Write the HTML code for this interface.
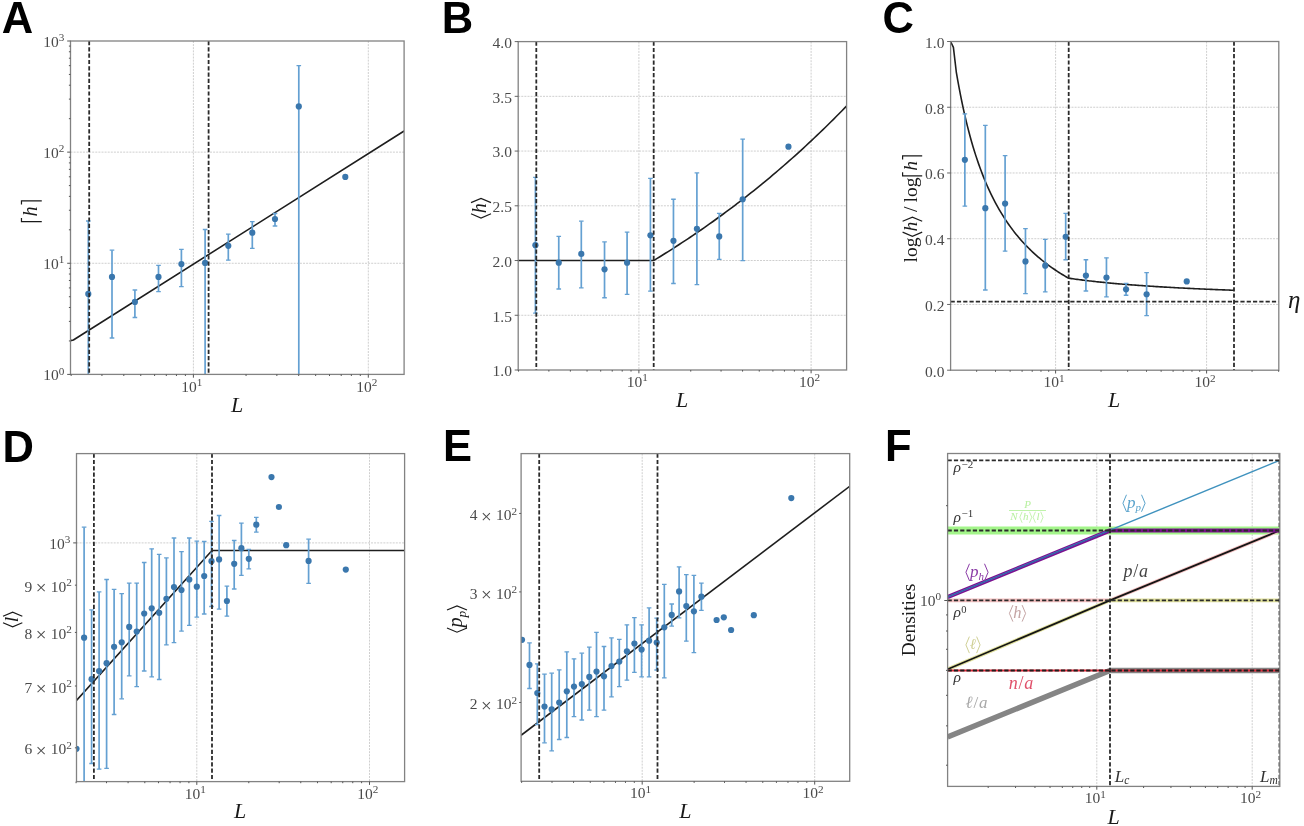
<!DOCTYPE html><html><head><meta charset="utf-8"><style>html,body{margin:0;padding:0;background:#fff;overflow:hidden;}svg{display:block;font-family:"Liberation Serif",serif;will-change:transform;}</style></head><body>
<svg width="1304" height="826" viewBox="0 0 1304 826">
<rect width="1304" height="826" fill="#fff"/>
<text x="1.8" y="32.7" font-family="'Liberation Sans', sans-serif" font-weight="bold" font-size="43.5" fill="#000">A</text>
<text x="441.8" y="32.8" font-family="'Liberation Sans', sans-serif" font-weight="bold" font-size="43.5" fill="#000">B</text>
<text x="882.4" y="33" font-family="'Liberation Sans', sans-serif" font-weight="bold" font-size="43.5" fill="#000">C</text>
<text x="2.6" y="461.6" font-family="'Liberation Sans', sans-serif" font-weight="bold" font-size="43.5" fill="#000">D</text>
<text x="442.9" y="461.4" font-family="'Liberation Sans', sans-serif" font-weight="bold" font-size="43.5" fill="#000">E</text>
<text x="884.9" y="461.4" font-family="'Liberation Sans', sans-serif" font-weight="bold" font-size="43.5" fill="#000">F</text>
<g>
<line x1="193.4" y1="41" x2="193.4" y2="374.4" stroke="#cfcfcf" stroke-width="1" stroke-dasharray="2 1.1"/>
<line x1="70.5" y1="263.27" x2="404.1" y2="263.27" stroke="#cfcfcf" stroke-width="1" stroke-dasharray="2 1.1"/>
<line x1="368.3" y1="41" x2="368.3" y2="374.4" stroke="#cfcfcf" stroke-width="1" stroke-dasharray="2 1.1"/>
<line x1="70.5" y1="152.13" x2="404.1" y2="152.13" stroke="#cfcfcf" stroke-width="1" stroke-dasharray="2 1.1"/>
<clipPath id="cA"><rect x="70.5" y="41.0" width="333.6" height="333.4"/></clipPath>
<g clip-path="url(#cA)">
<path d="M70.5 340.6 L73.4 340 L404.1 131" fill="none" stroke="#1e1e1e" stroke-width="1.6" stroke-linejoin="round"/>
<line x1="88.3" y1="221" x2="88.3" y2="380" stroke="#64a0d2" stroke-width="1.7"/>
<line x1="86" y1="221" x2="90.6" y2="221" stroke="#64a0d2" stroke-width="1.3"/>
<line x1="86" y1="380" x2="90.6" y2="380" stroke="#64a0d2" stroke-width="1.3"/>
<line x1="112" y1="250.2" x2="112" y2="338" stroke="#64a0d2" stroke-width="1.7"/>
<line x1="109.7" y1="250.2" x2="114.3" y2="250.2" stroke="#64a0d2" stroke-width="1.3"/>
<line x1="109.7" y1="338" x2="114.3" y2="338" stroke="#64a0d2" stroke-width="1.3"/>
<line x1="134.9" y1="290" x2="134.9" y2="317.5" stroke="#64a0d2" stroke-width="1.7"/>
<line x1="132.6" y1="290" x2="137.2" y2="290" stroke="#64a0d2" stroke-width="1.3"/>
<line x1="132.6" y1="317.5" x2="137.2" y2="317.5" stroke="#64a0d2" stroke-width="1.3"/>
<line x1="158.5" y1="265.4" x2="158.5" y2="291.7" stroke="#64a0d2" stroke-width="1.7"/>
<line x1="156.2" y1="265.4" x2="160.8" y2="265.4" stroke="#64a0d2" stroke-width="1.3"/>
<line x1="156.2" y1="291.7" x2="160.8" y2="291.7" stroke="#64a0d2" stroke-width="1.3"/>
<line x1="181.4" y1="249.3" x2="181.4" y2="286.6" stroke="#64a0d2" stroke-width="1.7"/>
<line x1="179.1" y1="249.3" x2="183.7" y2="249.3" stroke="#64a0d2" stroke-width="1.3"/>
<line x1="179.1" y1="286.6" x2="183.7" y2="286.6" stroke="#64a0d2" stroke-width="1.3"/>
<line x1="205.1" y1="229.5" x2="205.1" y2="380" stroke="#64a0d2" stroke-width="1.7"/>
<line x1="202.8" y1="229.5" x2="207.4" y2="229.5" stroke="#64a0d2" stroke-width="1.3"/>
<line x1="202.8" y1="380" x2="207.4" y2="380" stroke="#64a0d2" stroke-width="1.3"/>
<line x1="228.3" y1="234.1" x2="228.3" y2="260.2" stroke="#64a0d2" stroke-width="1.7"/>
<line x1="226" y1="234.1" x2="230.6" y2="234.1" stroke="#64a0d2" stroke-width="1.3"/>
<line x1="226" y1="260.2" x2="230.6" y2="260.2" stroke="#64a0d2" stroke-width="1.3"/>
<line x1="252.3" y1="221.6" x2="252.3" y2="248.4" stroke="#64a0d2" stroke-width="1.7"/>
<line x1="250" y1="221.6" x2="254.6" y2="221.6" stroke="#64a0d2" stroke-width="1.3"/>
<line x1="250" y1="248.4" x2="254.6" y2="248.4" stroke="#64a0d2" stroke-width="1.3"/>
<line x1="275" y1="213.5" x2="275" y2="226" stroke="#64a0d2" stroke-width="1.7"/>
<line x1="272.7" y1="213.5" x2="277.3" y2="213.5" stroke="#64a0d2" stroke-width="1.3"/>
<line x1="272.7" y1="226" x2="277.3" y2="226" stroke="#64a0d2" stroke-width="1.3"/>
<line x1="298.8" y1="65.6" x2="298.8" y2="380" stroke="#64a0d2" stroke-width="1.7"/>
<line x1="296.5" y1="65.6" x2="301.1" y2="65.6" stroke="#64a0d2" stroke-width="1.3"/>
<line x1="296.5" y1="380" x2="301.1" y2="380" stroke="#64a0d2" stroke-width="1.3"/>
<circle cx="88.3" cy="293.9" r="3.1" fill="#3a77ad"/>
<circle cx="112" cy="276.9" r="3.1" fill="#3a77ad"/>
<circle cx="134.9" cy="301.9" r="3.1" fill="#3a77ad"/>
<circle cx="158.5" cy="276.9" r="3.1" fill="#3a77ad"/>
<circle cx="181.4" cy="264.1" r="3.1" fill="#3a77ad"/>
<circle cx="205.1" cy="262.9" r="3.1" fill="#3a77ad"/>
<circle cx="228.3" cy="245.8" r="3.1" fill="#3a77ad"/>
<circle cx="252.3" cy="232.7" r="3.1" fill="#3a77ad"/>
<circle cx="275" cy="219" r="3.1" fill="#3a77ad"/>
<circle cx="298.8" cy="106.4" r="3.1" fill="#3a77ad"/>
<circle cx="345.3" cy="176.9" r="3.1" fill="#3a77ad"/>
<line x1="89.2" y1="41" x2="89.2" y2="374.4" stroke="#2a2a2a" stroke-width="1.8" stroke-dasharray="4.2 2.1"/>
<line x1="208.6" y1="41" x2="208.6" y2="374.4" stroke="#2a2a2a" stroke-width="1.8" stroke-dasharray="4.2 2.1"/>
</g>
<rect x="70.5" y="41" width="333.6" height="333.4" fill="none" stroke="#828282" stroke-width="1.3"/>
<line x1="71.15" y1="374.4" x2="71.15" y2="376" stroke="#555" stroke-width="1.0"/>
<line x1="101.95" y1="374.4" x2="101.95" y2="376" stroke="#555" stroke-width="1.0"/>
<line x1="123.8" y1="374.4" x2="123.8" y2="376" stroke="#555" stroke-width="1.0"/>
<line x1="140.75" y1="374.4" x2="140.75" y2="376" stroke="#555" stroke-width="1.0"/>
<line x1="154.6" y1="374.4" x2="154.6" y2="376" stroke="#555" stroke-width="1.0"/>
<line x1="166.31" y1="374.4" x2="166.31" y2="376" stroke="#555" stroke-width="1.0"/>
<line x1="176.45" y1="374.4" x2="176.45" y2="376" stroke="#555" stroke-width="1.0"/>
<line x1="185.4" y1="374.4" x2="185.4" y2="376" stroke="#555" stroke-width="1.0"/>
<line x1="193.4" y1="374.4" x2="193.4" y2="377.7" stroke="#555" stroke-width="1.0"/>
<line x1="246.05" y1="374.4" x2="246.05" y2="376" stroke="#555" stroke-width="1.0"/>
<line x1="276.85" y1="374.4" x2="276.85" y2="376" stroke="#555" stroke-width="1.0"/>
<line x1="298.7" y1="374.4" x2="298.7" y2="376" stroke="#555" stroke-width="1.0"/>
<line x1="315.65" y1="374.4" x2="315.65" y2="376" stroke="#555" stroke-width="1.0"/>
<line x1="329.5" y1="374.4" x2="329.5" y2="376" stroke="#555" stroke-width="1.0"/>
<line x1="341.21" y1="374.4" x2="341.21" y2="376" stroke="#555" stroke-width="1.0"/>
<line x1="351.35" y1="374.4" x2="351.35" y2="376" stroke="#555" stroke-width="1.0"/>
<line x1="360.3" y1="374.4" x2="360.3" y2="376" stroke="#555" stroke-width="1.0"/>
<line x1="368.3" y1="374.4" x2="368.3" y2="377.7" stroke="#555" stroke-width="1.0"/>
<line x1="70.5" y1="374.4" x2="67.2" y2="374.4" stroke="#555" stroke-width="1.0"/>
<line x1="70.5" y1="340.95" x2="68.9" y2="340.95" stroke="#555" stroke-width="1.0"/>
<line x1="70.5" y1="321.38" x2="68.9" y2="321.38" stroke="#555" stroke-width="1.0"/>
<line x1="70.5" y1="307.49" x2="68.9" y2="307.49" stroke="#555" stroke-width="1.0"/>
<line x1="70.5" y1="296.72" x2="68.9" y2="296.72" stroke="#555" stroke-width="1.0"/>
<line x1="70.5" y1="287.92" x2="68.9" y2="287.92" stroke="#555" stroke-width="1.0"/>
<line x1="70.5" y1="280.48" x2="68.9" y2="280.48" stroke="#555" stroke-width="1.0"/>
<line x1="70.5" y1="274.04" x2="68.9" y2="274.04" stroke="#555" stroke-width="1.0"/>
<line x1="70.5" y1="268.35" x2="68.9" y2="268.35" stroke="#555" stroke-width="1.0"/>
<line x1="70.5" y1="263.27" x2="67.2" y2="263.27" stroke="#555" stroke-width="1.0"/>
<line x1="70.5" y1="229.81" x2="68.9" y2="229.81" stroke="#555" stroke-width="1.0"/>
<line x1="70.5" y1="210.24" x2="68.9" y2="210.24" stroke="#555" stroke-width="1.0"/>
<line x1="70.5" y1="196.36" x2="68.9" y2="196.36" stroke="#555" stroke-width="1.0"/>
<line x1="70.5" y1="185.59" x2="68.9" y2="185.59" stroke="#555" stroke-width="1.0"/>
<line x1="70.5" y1="176.79" x2="68.9" y2="176.79" stroke="#555" stroke-width="1.0"/>
<line x1="70.5" y1="169.35" x2="68.9" y2="169.35" stroke="#555" stroke-width="1.0"/>
<line x1="70.5" y1="162.9" x2="68.9" y2="162.9" stroke="#555" stroke-width="1.0"/>
<line x1="70.5" y1="157.22" x2="68.9" y2="157.22" stroke="#555" stroke-width="1.0"/>
<line x1="70.5" y1="152.13" x2="67.2" y2="152.13" stroke="#555" stroke-width="1.0"/>
<line x1="70.5" y1="118.68" x2="68.9" y2="118.68" stroke="#555" stroke-width="1.0"/>
<line x1="70.5" y1="99.11" x2="68.9" y2="99.11" stroke="#555" stroke-width="1.0"/>
<line x1="70.5" y1="85.22" x2="68.9" y2="85.22" stroke="#555" stroke-width="1.0"/>
<line x1="70.5" y1="74.45" x2="68.9" y2="74.45" stroke="#555" stroke-width="1.0"/>
<line x1="70.5" y1="65.65" x2="68.9" y2="65.65" stroke="#555" stroke-width="1.0"/>
<line x1="70.5" y1="58.21" x2="68.9" y2="58.21" stroke="#555" stroke-width="1.0"/>
<line x1="70.5" y1="51.77" x2="68.9" y2="51.77" stroke="#555" stroke-width="1.0"/>
<line x1="70.5" y1="46.09" x2="68.9" y2="46.09" stroke="#555" stroke-width="1.0"/>
<line x1="70.5" y1="41" x2="67.2" y2="41" stroke="#555" stroke-width="1.0"/>
<g transform="translate(181.25 391.7)"><text x="0" y="0" font-size="15.5" fill="#4a4a4a">10</text><text x="15.5" y="-5.8" font-size="11.2" fill="#4a4a4a">1</text></g>
<g transform="translate(356.15 391.7)"><text x="0" y="0" font-size="15.5" fill="#4a4a4a">10</text><text x="15.5" y="-5.8" font-size="11.2" fill="#4a4a4a">2</text></g>
<g transform="translate(43.2 380.3)"><text x="0" y="0" font-size="15.5" fill="#4a4a4a">10</text><text x="15.5" y="-5.8" font-size="11.2" fill="#4a4a4a">0</text></g>
<g transform="translate(43.2 269.17)"><text x="0" y="0" font-size="15.5" fill="#4a4a4a">10</text><text x="15.5" y="-5.8" font-size="11.2" fill="#4a4a4a">1</text></g>
<g transform="translate(43.2 158.03)"><text x="0" y="0" font-size="15.5" fill="#4a4a4a">10</text><text x="15.5" y="-5.8" font-size="11.2" fill="#4a4a4a">2</text></g>
<g transform="translate(43.2 46.9)"><text x="0" y="0" font-size="15.5" fill="#4a4a4a">10</text><text x="15.5" y="-5.8" font-size="11.2" fill="#4a4a4a">3</text></g>
<g transform="translate(230.88 412.2)"><text x="0" y="0" font-size="22" font-style="italic" fill="#1a1a1a">L</text></g>
<g transform="translate(36.7 211.3) rotate(-90) translate(-11.98 0)"><path d="M1.62 5.08 L1.62 -15.23 L5.28 -15.23" fill="none" stroke="#1a1a1a" stroke-width="1.2"/><text x="6.9" y="0" font-size="20.3" font-style="italic" fill="#1a1a1a">h</text><path d="M18.68 -15.23 L22.33 -15.23 L22.33 5.08" fill="none" stroke="#1a1a1a" stroke-width="1.2"/></g>
</g>
<line x1="638.9" y1="41.6" x2="638.9" y2="370" stroke="#cfcfcf" stroke-width="1" stroke-dasharray="2 1.1"/>
<line x1="811.1" y1="41.6" x2="811.1" y2="370" stroke="#cfcfcf" stroke-width="1" stroke-dasharray="2 1.1"/>
<line x1="518.2" y1="315.27" x2="846.6" y2="315.27" stroke="#cfcfcf" stroke-width="1" stroke-dasharray="2 1.1"/>
<line x1="518.2" y1="260.53" x2="846.6" y2="260.53" stroke="#cfcfcf" stroke-width="1" stroke-dasharray="2 1.1"/>
<line x1="518.2" y1="205.8" x2="846.6" y2="205.8" stroke="#cfcfcf" stroke-width="1" stroke-dasharray="2 1.1"/>
<line x1="518.2" y1="151.07" x2="846.6" y2="151.07" stroke="#cfcfcf" stroke-width="1" stroke-dasharray="2 1.1"/>
<line x1="518.2" y1="96.33" x2="846.6" y2="96.33" stroke="#cfcfcf" stroke-width="1" stroke-dasharray="2 1.1"/>
<clipPath id="cB"><rect x="518.2" y="41.6" width="328.4" height="328.4"/></clipPath>
<g clip-path="url(#cB)">
<path d="M516.64 260.53 L519.39 260.53 L522.15 260.53 L524.9 260.53 L527.66 260.53 L530.41 260.53 L533.17 260.53 L535.92 260.53 L538.68 260.53 L541.43 260.53 L544.19 260.53 L546.95 260.53 L549.7 260.53 L552.46 260.53 L555.21 260.53 L557.97 260.53 L560.72 260.53 L563.48 260.53 L566.23 260.53 L568.99 260.53 L571.74 260.53 L574.5 260.53 L577.25 260.53 L580.01 260.53 L582.76 260.53 L585.52 260.53 L588.27 260.53 L591.03 260.53 L593.78 260.53 L596.54 260.53 L599.29 260.53 L602.05 260.53 L604.8 260.53 L607.56 260.53 L610.31 260.53 L613.07 260.53 L615.83 260.53 L618.58 260.53 L621.34 260.53 L624.09 260.53 L626.85 260.53 L629.6 260.53 L632.36 260.53 L635.11 260.53 L637.87 260.53 L640.62 260.53 L643.38 260.53 L646.13 260.53 L648.89 260.53 L651.64 260.53 L653.66 260.53 L654.4 260.08 L657.15 258.4 L659.91 256.71 L662.66 255.01 L665.42 253.29 L668.17 251.56 L670.93 249.81 L673.68 248.05 L676.44 246.28 L679.19 244.5 L681.95 242.7 L684.71 240.89 L687.46 239.06 L690.22 237.22 L692.97 235.37 L695.73 233.5 L698.48 231.61 L701.24 229.72 L703.99 227.8 L706.75 225.88 L709.5 223.94 L712.26 221.98 L715.01 220.01 L717.77 218.02 L720.52 216.02 L723.28 214 L726.03 211.97 L728.79 209.92 L731.54 207.86 L734.3 205.78 L737.05 203.69 L739.81 201.58 L742.56 199.45 L745.32 197.31 L748.07 195.14 L750.83 192.97 L753.59 190.78 L756.34 188.57 L759.1 186.34 L761.85 184.09 L764.61 181.83 L767.36 179.55 L770.12 177.26 L772.87 174.95 L775.63 172.61 L778.38 170.26 L781.14 167.9 L783.89 165.51 L786.65 163.11 L789.4 160.69 L792.16 158.25 L794.91 155.79 L797.67 153.31 L800.42 150.81 L803.18 148.3 L805.93 145.76 L808.69 143.21 L811.44 140.63 L814.2 138.04 L816.95 135.43 L819.71 132.79 L822.47 130.14 L825.22 127.46 L827.98 124.77 L830.73 122.05 L833.49 119.32 L836.24 116.56 L839 113.78 L841.75 110.98 L844.51 108.16 L847.26 105.32" fill="none" stroke="#1e1e1e" stroke-width="1.6" stroke-linejoin="round"/>
<line x1="535.41" y1="177.34" x2="535.41" y2="313.08" stroke="#64a0d2" stroke-width="1.7"/>
<line x1="533.11" y1="177.34" x2="537.71" y2="177.34" stroke="#64a0d2" stroke-width="1.3"/>
<line x1="533.11" y1="313.08" x2="537.71" y2="313.08" stroke="#64a0d2" stroke-width="1.3"/>
<line x1="558.76" y1="236.45" x2="558.76" y2="288.99" stroke="#64a0d2" stroke-width="1.7"/>
<line x1="556.46" y1="236.45" x2="561.06" y2="236.45" stroke="#64a0d2" stroke-width="1.3"/>
<line x1="556.46" y1="288.99" x2="561.06" y2="288.99" stroke="#64a0d2" stroke-width="1.3"/>
<line x1="581.3" y1="221.13" x2="581.3" y2="287.9" stroke="#64a0d2" stroke-width="1.7"/>
<line x1="579" y1="221.13" x2="583.6" y2="221.13" stroke="#64a0d2" stroke-width="1.3"/>
<line x1="579" y1="287.9" x2="583.6" y2="287.9" stroke="#64a0d2" stroke-width="1.3"/>
<line x1="604.53" y1="241.92" x2="604.53" y2="297.75" stroke="#64a0d2" stroke-width="1.7"/>
<line x1="602.23" y1="241.92" x2="606.83" y2="241.92" stroke="#64a0d2" stroke-width="1.3"/>
<line x1="602.23" y1="297.75" x2="606.83" y2="297.75" stroke="#64a0d2" stroke-width="1.3"/>
<line x1="627.09" y1="232.07" x2="627.09" y2="294.47" stroke="#64a0d2" stroke-width="1.7"/>
<line x1="624.79" y1="232.07" x2="629.39" y2="232.07" stroke="#64a0d2" stroke-width="1.3"/>
<line x1="624.79" y1="294.47" x2="629.39" y2="294.47" stroke="#64a0d2" stroke-width="1.3"/>
<line x1="650.42" y1="178.43" x2="650.42" y2="291.18" stroke="#64a0d2" stroke-width="1.7"/>
<line x1="648.12" y1="178.43" x2="652.72" y2="178.43" stroke="#64a0d2" stroke-width="1.3"/>
<line x1="648.12" y1="291.18" x2="652.72" y2="291.18" stroke="#64a0d2" stroke-width="1.3"/>
<line x1="673.46" y1="199.23" x2="673.46" y2="283.52" stroke="#64a0d2" stroke-width="1.7"/>
<line x1="671.16" y1="199.23" x2="675.76" y2="199.23" stroke="#64a0d2" stroke-width="1.3"/>
<line x1="671.16" y1="283.52" x2="675.76" y2="283.52" stroke="#64a0d2" stroke-width="1.3"/>
<line x1="696.9" y1="172.96" x2="696.9" y2="284.62" stroke="#64a0d2" stroke-width="1.7"/>
<line x1="694.6" y1="172.96" x2="699.2" y2="172.96" stroke="#64a0d2" stroke-width="1.3"/>
<line x1="694.6" y1="284.62" x2="699.2" y2="284.62" stroke="#64a0d2" stroke-width="1.3"/>
<line x1="719.25" y1="213.46" x2="719.25" y2="259.44" stroke="#64a0d2" stroke-width="1.7"/>
<line x1="716.95" y1="213.46" x2="721.55" y2="213.46" stroke="#64a0d2" stroke-width="1.3"/>
<line x1="716.95" y1="259.44" x2="721.55" y2="259.44" stroke="#64a0d2" stroke-width="1.3"/>
<line x1="742.68" y1="139.03" x2="742.68" y2="260.53" stroke="#64a0d2" stroke-width="1.7"/>
<line x1="740.38" y1="139.03" x2="744.98" y2="139.03" stroke="#64a0d2" stroke-width="1.3"/>
<line x1="740.38" y1="260.53" x2="744.98" y2="260.53" stroke="#64a0d2" stroke-width="1.3"/>
<circle cx="535.41" cy="245.21" r="3.1" fill="#3a77ad"/>
<circle cx="558.76" cy="262.72" r="3.1" fill="#3a77ad"/>
<circle cx="581.3" cy="253.97" r="3.1" fill="#3a77ad"/>
<circle cx="604.53" cy="269.29" r="3.1" fill="#3a77ad"/>
<circle cx="627.09" cy="262.72" r="3.1" fill="#3a77ad"/>
<circle cx="650.42" cy="235.36" r="3.1" fill="#3a77ad"/>
<circle cx="673.46" cy="240.83" r="3.1" fill="#3a77ad"/>
<circle cx="696.9" cy="228.79" r="3.1" fill="#3a77ad"/>
<circle cx="719.25" cy="236.45" r="3.1" fill="#3a77ad"/>
<circle cx="742.68" cy="199.23" r="3.1" fill="#3a77ad"/>
<circle cx="788.46" cy="146.69" r="3.1" fill="#3a77ad"/>
<line x1="536.3" y1="41.6" x2="536.3" y2="370" stroke="#2a2a2a" stroke-width="1.8" stroke-dasharray="4.2 2.1"/>
<line x1="653.7" y1="41.6" x2="653.7" y2="370" stroke="#2a2a2a" stroke-width="1.8" stroke-dasharray="4.2 2.1"/>
</g>
<rect x="518.2" y="41.6" width="328.4" height="328.4" fill="none" stroke="#828282" stroke-width="1.3"/>
<line x1="518.54" y1="370" x2="518.54" y2="371.6" stroke="#555" stroke-width="1.0"/>
<line x1="548.86" y1="370" x2="548.86" y2="371.6" stroke="#555" stroke-width="1.0"/>
<line x1="570.37" y1="370" x2="570.37" y2="371.6" stroke="#555" stroke-width="1.0"/>
<line x1="587.06" y1="370" x2="587.06" y2="371.6" stroke="#555" stroke-width="1.0"/>
<line x1="600.7" y1="370" x2="600.7" y2="371.6" stroke="#555" stroke-width="1.0"/>
<line x1="612.23" y1="370" x2="612.23" y2="371.6" stroke="#555" stroke-width="1.0"/>
<line x1="622.21" y1="370" x2="622.21" y2="371.6" stroke="#555" stroke-width="1.0"/>
<line x1="631.02" y1="370" x2="631.02" y2="371.6" stroke="#555" stroke-width="1.0"/>
<line x1="638.9" y1="370" x2="638.9" y2="373.3" stroke="#555" stroke-width="1.0"/>
<line x1="690.74" y1="370" x2="690.74" y2="371.6" stroke="#555" stroke-width="1.0"/>
<line x1="721.06" y1="370" x2="721.06" y2="371.6" stroke="#555" stroke-width="1.0"/>
<line x1="742.57" y1="370" x2="742.57" y2="371.6" stroke="#555" stroke-width="1.0"/>
<line x1="759.26" y1="370" x2="759.26" y2="371.6" stroke="#555" stroke-width="1.0"/>
<line x1="772.9" y1="370" x2="772.9" y2="371.6" stroke="#555" stroke-width="1.0"/>
<line x1="784.43" y1="370" x2="784.43" y2="371.6" stroke="#555" stroke-width="1.0"/>
<line x1="794.41" y1="370" x2="794.41" y2="371.6" stroke="#555" stroke-width="1.0"/>
<line x1="803.22" y1="370" x2="803.22" y2="371.6" stroke="#555" stroke-width="1.0"/>
<line x1="811.1" y1="370" x2="811.1" y2="373.3" stroke="#555" stroke-width="1.0"/>
<line x1="518.2" y1="370" x2="514.7" y2="370" stroke="#555" stroke-width="0.9"/>
<g transform="translate(492.62 376.4)"><text x="0" y="0" font-size="15.5" fill="#4a4a4a">1.0</text></g>
<line x1="518.2" y1="315.27" x2="514.7" y2="315.27" stroke="#555" stroke-width="0.9"/>
<g transform="translate(492.62 321.67)"><text x="0" y="0" font-size="15.5" fill="#4a4a4a">1.5</text></g>
<line x1="518.2" y1="260.53" x2="514.7" y2="260.53" stroke="#555" stroke-width="0.9"/>
<g transform="translate(492.62 266.93)"><text x="0" y="0" font-size="15.5" fill="#4a4a4a">2.0</text></g>
<line x1="518.2" y1="205.8" x2="514.7" y2="205.8" stroke="#555" stroke-width="0.9"/>
<g transform="translate(492.62 212.2)"><text x="0" y="0" font-size="15.5" fill="#4a4a4a">2.5</text></g>
<line x1="518.2" y1="151.07" x2="514.7" y2="151.07" stroke="#555" stroke-width="0.9"/>
<g transform="translate(492.62 157.47)"><text x="0" y="0" font-size="15.5" fill="#4a4a4a">3.0</text></g>
<line x1="518.2" y1="96.33" x2="514.7" y2="96.33" stroke="#555" stroke-width="0.9"/>
<g transform="translate(492.62 102.73)"><text x="0" y="0" font-size="15.5" fill="#4a4a4a">3.5</text></g>
<line x1="518.2" y1="41.6" x2="514.7" y2="41.6" stroke="#555" stroke-width="0.9"/>
<g transform="translate(492.62 48)"><text x="0" y="0" font-size="15.5" fill="#4a4a4a">4.0</text></g>
<g transform="translate(626.75 387.1)"><text x="0" y="0" font-size="15.5" fill="#4a4a4a">10</text><text x="15.5" y="-5.8" font-size="11.2" fill="#4a4a4a">1</text></g>
<g transform="translate(798.95 387.1)"><text x="0" y="0" font-size="15.5" fill="#4a4a4a">10</text><text x="15.5" y="-5.8" font-size="11.2" fill="#4a4a4a">2</text></g>
<g transform="translate(675.88 406.8)"><text x="0" y="0" font-size="22" font-style="italic" fill="#1a1a1a">L</text></g>
<g transform="translate(486 208.2) rotate(-90) translate(-11 0)"><path d="M5.4 -15 L1.2 -5 L5.4 5" fill="none" stroke="#1a1a1a" stroke-width="1.2" stroke-linejoin="miter"/><text x="6" y="0" font-size="20" font-style="italic" fill="#1a1a1a">h</text><path d="M16.6 -15 L20.8 -5 L16.6 5" fill="none" stroke="#1a1a1a" stroke-width="1.2" stroke-linejoin="miter"/></g>
<line x1="1055.6" y1="41.5" x2="1055.6" y2="370.2" stroke="#cfcfcf" stroke-width="1" stroke-dasharray="2 1.1"/>
<line x1="1206.6" y1="41.5" x2="1206.6" y2="370.2" stroke="#cfcfcf" stroke-width="1" stroke-dasharray="2 1.1"/>
<line x1="950.6" y1="304.46" x2="1278.8" y2="304.46" stroke="#cfcfcf" stroke-width="1" stroke-dasharray="2 1.1"/>
<line x1="950.6" y1="238.72" x2="1278.8" y2="238.72" stroke="#cfcfcf" stroke-width="1" stroke-dasharray="2 1.1"/>
<line x1="950.6" y1="172.98" x2="1278.8" y2="172.98" stroke="#cfcfcf" stroke-width="1" stroke-dasharray="2 1.1"/>
<line x1="950.6" y1="107.24" x2="1278.8" y2="107.24" stroke="#cfcfcf" stroke-width="1" stroke-dasharray="2 1.1"/>
<clipPath id="cC"><rect x="950.6" y="41.5" width="328.19999999999993" height="328.7"/></clipPath>
<g clip-path="url(#cC)">
<path d="M950.6 41.5 L953.4 47.3 L956.3 72.03 L957.69 80.07 L959.08 87.68 L960.47 94.91 L961.86 101.78 L963.25 108.31 L964.63 114.53 L966.02 120.47 L967.41 126.13 L968.8 131.55 L970.19 136.72 L971.58 141.68 L972.96 146.43 L974.35 150.99 L975.74 155.37 L977.13 159.57 L978.52 163.62 L979.91 167.51 L981.3 171.26 L982.68 174.87 L984.07 178.35 L985.46 181.71 L986.85 184.96 L988.24 188.09 L989.63 191.12 L991.02 194.05 L992.4 196.89 L993.79 199.64 L995.18 202.3 L996.57 204.88 L997.96 207.38 L999.35 209.81 L1000.74 212.16 L1002.12 214.45 L1003.51 216.67 L1004.9 218.83 L1006.29 220.93 L1007.68 222.97 L1009.07 224.96 L1010.45 226.89 L1011.84 228.78 L1013.23 230.61 L1014.62 232.4 L1016.01 234.14 L1017.4 235.84 L1018.79 237.5 L1020.17 239.12 L1021.56 240.69 L1022.95 242.23 L1024.34 243.74 L1025.73 245.21 L1027.12 246.64 L1028.51 248.04 L1029.89 249.41 L1031.28 250.76 L1032.67 252.07 L1034.06 253.35 L1035.45 254.6 L1036.84 255.83 L1038.23 257.04 L1039.61 258.21 L1041 259.37 L1042.39 260.5 L1043.78 261.6 L1045.17 262.69 L1046.56 263.75 L1047.94 264.8 L1049.33 265.82 L1050.72 266.82 L1052.11 267.8 L1053.5 268.77 L1054.89 269.72 L1056.28 270.65 L1057.66 271.56 L1059.05 272.46 L1060.44 273.34 L1061.83 274.2 L1063.22 275.05 L1064.61 275.88 L1066 276.7 L1067.38 277.51 L1068.77 278.2 L1070.16 278.4 L1071.55 278.6 L1072.94 278.8 L1074.33 278.99 L1075.72 279.18 L1077.1 279.37 L1078.49 279.55 L1079.88 279.73 L1081.27 279.91 L1082.66 280.09 L1084.05 280.26 L1085.43 280.43 L1086.82 280.6 L1088.21 280.76 L1089.6 280.92 L1090.99 281.08 L1092.38 281.24 L1093.77 281.39 L1095.15 281.55 L1096.54 281.7 L1097.93 281.85 L1099.32 281.99 L1100.71 282.14 L1102.1 282.28 L1103.49 282.42 L1104.87 282.56 L1106.26 282.69 L1107.65 282.83 L1109.04 282.96 L1110.43 283.09 L1111.82 283.22 L1113.21 283.34 L1114.59 283.47 L1115.98 283.59 L1117.37 283.72 L1118.76 283.84 L1120.15 283.95 L1121.54 284.07 L1122.92 284.19 L1124.31 284.3 L1125.7 284.42 L1127.09 284.53 L1128.48 284.64 L1129.87 284.75 L1131.26 284.85 L1132.64 284.96 L1134.03 285.06 L1135.42 285.17 L1136.81 285.27 L1138.2 285.37 L1139.59 285.47 L1140.98 285.57 L1142.36 285.67 L1143.75 285.76 L1145.14 285.86 L1146.53 285.95 L1147.92 286.05 L1149.31 286.14 L1150.7 286.23 L1152.08 286.32 L1153.47 286.41 L1154.86 286.5 L1156.25 286.58 L1157.64 286.67 L1159.03 286.75 L1160.41 286.84 L1161.8 286.92 L1163.19 287 L1164.58 287.09 L1165.97 287.17 L1167.36 287.25 L1168.75 287.32 L1170.13 287.4 L1171.52 287.48 L1172.91 287.56 L1174.3 287.63 L1175.69 287.71 L1177.08 287.78 L1178.47 287.85 L1179.85 287.93 L1181.24 288 L1182.63 288.07 L1184.02 288.14 L1185.41 288.21 L1186.8 288.28 L1188.19 288.35 L1189.57 288.41 L1190.96 288.48 L1192.35 288.55 L1193.74 288.61 L1195.13 288.68 L1196.52 288.74 L1197.9 288.81 L1199.29 288.87 L1200.68 288.93 L1202.07 289 L1203.46 289.06 L1204.85 289.12 L1206.24 289.18 L1207.62 289.24 L1209.01 289.3 L1210.4 289.36 L1211.79 289.41 L1213.18 289.47 L1214.57 289.53 L1215.96 289.59 L1217.34 289.64 L1218.73 289.7 L1220.12 289.75 L1221.51 289.81 L1222.9 289.86 L1224.29 289.91 L1225.68 289.97 L1227.06 290.02 L1228.45 290.07 L1229.84 290.12 L1231.23 290.18 L1232.62 290.23 L1234.01 290.28" fill="none" stroke="#1e1e1e" stroke-width="1.6" stroke-linejoin="round"/>
<line x1="964.85" y1="113.81" x2="964.85" y2="206.18" stroke="#64a0d2" stroke-width="1.7"/>
<line x1="962.55" y1="113.81" x2="967.15" y2="113.81" stroke="#64a0d2" stroke-width="1.3"/>
<line x1="962.55" y1="206.18" x2="967.15" y2="206.18" stroke="#64a0d2" stroke-width="1.3"/>
<line x1="985.32" y1="125.32" x2="985.32" y2="290" stroke="#64a0d2" stroke-width="1.7"/>
<line x1="983.02" y1="125.32" x2="987.62" y2="125.32" stroke="#64a0d2" stroke-width="1.3"/>
<line x1="983.02" y1="290" x2="987.62" y2="290" stroke="#64a0d2" stroke-width="1.3"/>
<line x1="1005.09" y1="155.56" x2="1005.09" y2="251.21" stroke="#64a0d2" stroke-width="1.7"/>
<line x1="1002.79" y1="155.56" x2="1007.39" y2="155.56" stroke="#64a0d2" stroke-width="1.3"/>
<line x1="1002.79" y1="251.21" x2="1007.39" y2="251.21" stroke="#64a0d2" stroke-width="1.3"/>
<line x1="1025.46" y1="228.53" x2="1025.46" y2="293.61" stroke="#64a0d2" stroke-width="1.7"/>
<line x1="1023.16" y1="228.53" x2="1027.76" y2="228.53" stroke="#64a0d2" stroke-width="1.3"/>
<line x1="1023.16" y1="293.61" x2="1027.76" y2="293.61" stroke="#64a0d2" stroke-width="1.3"/>
<line x1="1045.24" y1="239.38" x2="1045.24" y2="291.97" stroke="#64a0d2" stroke-width="1.7"/>
<line x1="1042.94" y1="239.38" x2="1047.54" y2="239.38" stroke="#64a0d2" stroke-width="1.3"/>
<line x1="1042.94" y1="291.97" x2="1047.54" y2="291.97" stroke="#64a0d2" stroke-width="1.3"/>
<line x1="1065.7" y1="213.41" x2="1065.7" y2="259.76" stroke="#64a0d2" stroke-width="1.7"/>
<line x1="1063.4" y1="213.41" x2="1068" y2="213.41" stroke="#64a0d2" stroke-width="1.3"/>
<line x1="1063.4" y1="259.76" x2="1068" y2="259.76" stroke="#64a0d2" stroke-width="1.3"/>
<line x1="1085.91" y1="259.76" x2="1085.91" y2="290.98" stroke="#64a0d2" stroke-width="1.7"/>
<line x1="1083.61" y1="259.76" x2="1088.21" y2="259.76" stroke="#64a0d2" stroke-width="1.3"/>
<line x1="1083.61" y1="290.98" x2="1088.21" y2="290.98" stroke="#64a0d2" stroke-width="1.3"/>
<line x1="1106.46" y1="257.78" x2="1106.46" y2="296.9" stroke="#64a0d2" stroke-width="1.7"/>
<line x1="1104.16" y1="257.78" x2="1108.76" y2="257.78" stroke="#64a0d2" stroke-width="1.3"/>
<line x1="1104.16" y1="296.9" x2="1108.76" y2="296.9" stroke="#64a0d2" stroke-width="1.3"/>
<line x1="1126.06" y1="283.42" x2="1126.06" y2="295.26" stroke="#64a0d2" stroke-width="1.7"/>
<line x1="1123.76" y1="283.42" x2="1128.36" y2="283.42" stroke="#64a0d2" stroke-width="1.3"/>
<line x1="1123.76" y1="295.26" x2="1128.36" y2="295.26" stroke="#64a0d2" stroke-width="1.3"/>
<line x1="1146.61" y1="272.58" x2="1146.61" y2="315.64" stroke="#64a0d2" stroke-width="1.7"/>
<line x1="1144.31" y1="272.58" x2="1148.91" y2="272.58" stroke="#64a0d2" stroke-width="1.3"/>
<line x1="1144.31" y1="315.64" x2="1148.91" y2="315.64" stroke="#64a0d2" stroke-width="1.3"/>
<circle cx="964.85" cy="159.83" r="3.1" fill="#3a77ad"/>
<circle cx="985.32" cy="208.15" r="3.1" fill="#3a77ad"/>
<circle cx="1005.09" cy="203.55" r="3.1" fill="#3a77ad"/>
<circle cx="1025.46" cy="261.4" r="3.1" fill="#3a77ad"/>
<circle cx="1045.24" cy="265.67" r="3.1" fill="#3a77ad"/>
<circle cx="1065.7" cy="236.75" r="3.1" fill="#3a77ad"/>
<circle cx="1085.91" cy="275.53" r="3.1" fill="#3a77ad"/>
<circle cx="1106.46" cy="277.51" r="3.1" fill="#3a77ad"/>
<circle cx="1126.06" cy="289.34" r="3.1" fill="#3a77ad"/>
<circle cx="1146.61" cy="294.27" r="3.1" fill="#3a77ad"/>
<circle cx="1186.74" cy="281.45" r="3.1" fill="#3a77ad"/>
<line x1="1068.7" y1="41.5" x2="1068.7" y2="370.2" stroke="#2a2a2a" stroke-width="1.8" stroke-dasharray="4.2 2.1"/>
<line x1="1234" y1="41.5" x2="1234" y2="370.2" stroke="#2a2a2a" stroke-width="1.8" stroke-dasharray="4.2 2.1"/>
<line x1="950.6" y1="301.6" x2="1278.8" y2="301.6" stroke="#2a2a2a" stroke-width="1.8" stroke-dasharray="4.2 2.1"/>
</g>
<rect x="950.6" y="41.5" width="328.2" height="328.7" fill="none" stroke="#828282" stroke-width="1.3"/>
<line x1="976.65" y1="370.2" x2="976.65" y2="371.8" stroke="#555" stroke-width="1.0"/>
<line x1="995.51" y1="370.2" x2="995.51" y2="371.8" stroke="#555" stroke-width="1.0"/>
<line x1="1010.14" y1="370.2" x2="1010.14" y2="371.8" stroke="#555" stroke-width="1.0"/>
<line x1="1022.1" y1="370.2" x2="1022.1" y2="371.8" stroke="#555" stroke-width="1.0"/>
<line x1="1032.21" y1="370.2" x2="1032.21" y2="371.8" stroke="#555" stroke-width="1.0"/>
<line x1="1040.97" y1="370.2" x2="1040.97" y2="371.8" stroke="#555" stroke-width="1.0"/>
<line x1="1048.69" y1="370.2" x2="1048.69" y2="371.8" stroke="#555" stroke-width="1.0"/>
<line x1="1055.6" y1="370.2" x2="1055.6" y2="373.5" stroke="#555" stroke-width="1.0"/>
<line x1="1101.06" y1="370.2" x2="1101.06" y2="371.8" stroke="#555" stroke-width="1.0"/>
<line x1="1127.65" y1="370.2" x2="1127.65" y2="371.8" stroke="#555" stroke-width="1.0"/>
<line x1="1146.51" y1="370.2" x2="1146.51" y2="371.8" stroke="#555" stroke-width="1.0"/>
<line x1="1161.14" y1="370.2" x2="1161.14" y2="371.8" stroke="#555" stroke-width="1.0"/>
<line x1="1173.1" y1="370.2" x2="1173.1" y2="371.8" stroke="#555" stroke-width="1.0"/>
<line x1="1183.21" y1="370.2" x2="1183.21" y2="371.8" stroke="#555" stroke-width="1.0"/>
<line x1="1191.97" y1="370.2" x2="1191.97" y2="371.8" stroke="#555" stroke-width="1.0"/>
<line x1="1199.69" y1="370.2" x2="1199.69" y2="371.8" stroke="#555" stroke-width="1.0"/>
<line x1="1206.6" y1="370.2" x2="1206.6" y2="373.5" stroke="#555" stroke-width="1.0"/>
<line x1="1252.06" y1="370.2" x2="1252.06" y2="371.8" stroke="#555" stroke-width="1.0"/>
<line x1="1278.65" y1="370.2" x2="1278.65" y2="371.8" stroke="#555" stroke-width="1.0"/>
<line x1="950.6" y1="370.2" x2="947.1" y2="370.2" stroke="#555" stroke-width="0.9"/>
<g transform="translate(925.12 376.6)"><text x="0" y="0" font-size="15.5" fill="#4a4a4a">0.0</text></g>
<line x1="950.6" y1="304.46" x2="947.1" y2="304.46" stroke="#555" stroke-width="0.9"/>
<g transform="translate(925.12 310.86)"><text x="0" y="0" font-size="15.5" fill="#4a4a4a">0.2</text></g>
<line x1="950.6" y1="238.72" x2="947.1" y2="238.72" stroke="#555" stroke-width="0.9"/>
<g transform="translate(925.12 245.12)"><text x="0" y="0" font-size="15.5" fill="#4a4a4a">0.4</text></g>
<line x1="950.6" y1="172.98" x2="947.1" y2="172.98" stroke="#555" stroke-width="0.9"/>
<g transform="translate(925.12 179.38)"><text x="0" y="0" font-size="15.5" fill="#4a4a4a">0.6</text></g>
<line x1="950.6" y1="107.24" x2="947.1" y2="107.24" stroke="#555" stroke-width="0.9"/>
<g transform="translate(925.12 113.64)"><text x="0" y="0" font-size="15.5" fill="#4a4a4a">0.8</text></g>
<line x1="950.6" y1="41.5" x2="947.1" y2="41.5" stroke="#555" stroke-width="0.9"/>
<g transform="translate(925.12 47.9)"><text x="0" y="0" font-size="15.5" fill="#4a4a4a">1.0</text></g>
<g transform="translate(1043.45 387.3)"><text x="0" y="0" font-size="15.5" fill="#4a4a4a">10</text><text x="15.5" y="-5.8" font-size="11.2" fill="#4a4a4a">1</text></g>
<g transform="translate(1194.45 387.3)"><text x="0" y="0" font-size="15.5" fill="#4a4a4a">10</text><text x="15.5" y="-5.8" font-size="11.2" fill="#4a4a4a">2</text></g>
<g transform="translate(1107.88 407.2)"><text x="0" y="0" font-size="22" font-style="italic" fill="#1a1a1a">L</text></g>
<g transform="translate(1288 307.9)"><text x="0" y="0" font-size="25" font-style="italic" fill="#1a1a1a">η</text></g>
<g transform="translate(917.3 208.4) rotate(-90) translate(-54.11 0)"><text x="0" y="0" font-size="19.6" fill="#1a1a1a">log</text><path d="M30.34 -14.7 L26.22 -4.9 L30.34 4.9" fill="none" stroke="#1a1a1a" stroke-width="1.2" stroke-linejoin="miter"/><text x="30.93" y="0" font-size="19.6" font-style="italic" fill="#1a1a1a">h</text><path d="M41.31 -14.7 L45.43 -4.9 L41.31 4.9" fill="none" stroke="#1a1a1a" stroke-width="1.2" stroke-linejoin="miter"/><text x="50.61" y="0" font-size="19.6" fill="#1a1a1a">/</text><text x="60.05" y="0" font-size="19.6" fill="#1a1a1a">log</text><path d="M86.66 4.9 L86.66 -14.7 L90.19 -14.7" fill="none" stroke="#1a1a1a" stroke-width="1.2"/><text x="91.76" y="0" font-size="19.6" font-style="italic" fill="#1a1a1a">h</text><path d="M103.13 -14.7 L106.66 -14.7 L106.66 4.9" fill="none" stroke="#1a1a1a" stroke-width="1.2"/></g>
<line x1="196.8" y1="453.6" x2="196.8" y2="781.6" stroke="#cfcfcf" stroke-width="1" stroke-dasharray="2 1.1"/>
<line x1="369.5" y1="453.6" x2="369.5" y2="781.6" stroke="#cfcfcf" stroke-width="1" stroke-dasharray="2 1.1"/>
<line x1="76.5" y1="542.9" x2="404.6" y2="542.9" stroke="#cfcfcf" stroke-width="1" stroke-dasharray="2 1.1"/>
<clipPath id="cD"><rect x="76.5" y="453.6" width="328.1" height="328.0"/></clipPath>
<g clip-path="url(#cD)">
<path d="M76.5 700.5 L212 550.5 L406.6 550.5" fill="none" stroke="#1e1e1e" stroke-width="1.6" stroke-linejoin="round"/>
<line x1="84.1" y1="527.2" x2="84.1" y2="790" stroke="#64a0d2" stroke-width="1.7"/>
<line x1="81.8" y1="527.2" x2="86.4" y2="527.2" stroke="#64a0d2" stroke-width="1.3"/>
<line x1="81.8" y1="790" x2="86.4" y2="790" stroke="#64a0d2" stroke-width="1.3"/>
<line x1="91.6" y1="609.9" x2="91.6" y2="763.5" stroke="#64a0d2" stroke-width="1.7"/>
<line x1="89.3" y1="609.9" x2="93.9" y2="609.9" stroke="#64a0d2" stroke-width="1.3"/>
<line x1="89.3" y1="763.5" x2="93.9" y2="763.5" stroke="#64a0d2" stroke-width="1.3"/>
<line x1="99.1" y1="591.9" x2="99.1" y2="769.1" stroke="#64a0d2" stroke-width="1.7"/>
<line x1="96.8" y1="591.9" x2="101.4" y2="591.9" stroke="#64a0d2" stroke-width="1.3"/>
<line x1="96.8" y1="769.1" x2="101.4" y2="769.1" stroke="#64a0d2" stroke-width="1.3"/>
<line x1="106.6" y1="579.5" x2="106.6" y2="768.4" stroke="#64a0d2" stroke-width="1.7"/>
<line x1="104.3" y1="579.5" x2="108.9" y2="579.5" stroke="#64a0d2" stroke-width="1.3"/>
<line x1="104.3" y1="768.4" x2="108.9" y2="768.4" stroke="#64a0d2" stroke-width="1.3"/>
<line x1="114.1" y1="589.3" x2="114.1" y2="714.5" stroke="#64a0d2" stroke-width="1.7"/>
<line x1="111.8" y1="589.3" x2="116.4" y2="589.3" stroke="#64a0d2" stroke-width="1.3"/>
<line x1="111.8" y1="714.5" x2="116.4" y2="714.5" stroke="#64a0d2" stroke-width="1.3"/>
<line x1="121.7" y1="593.6" x2="121.7" y2="698.8" stroke="#64a0d2" stroke-width="1.7"/>
<line x1="119.4" y1="593.6" x2="124" y2="593.6" stroke="#64a0d2" stroke-width="1.3"/>
<line x1="119.4" y1="698.8" x2="124" y2="698.8" stroke="#64a0d2" stroke-width="1.3"/>
<line x1="129.2" y1="583.1" x2="129.2" y2="675.9" stroke="#64a0d2" stroke-width="1.7"/>
<line x1="126.9" y1="583.1" x2="131.5" y2="583.1" stroke="#64a0d2" stroke-width="1.3"/>
<line x1="126.9" y1="675.9" x2="131.5" y2="675.9" stroke="#64a0d2" stroke-width="1.3"/>
<line x1="136.7" y1="583.1" x2="136.7" y2="686.7" stroke="#64a0d2" stroke-width="1.7"/>
<line x1="134.4" y1="583.1" x2="139" y2="583.1" stroke="#64a0d2" stroke-width="1.3"/>
<line x1="134.4" y1="686.7" x2="139" y2="686.7" stroke="#64a0d2" stroke-width="1.3"/>
<line x1="144.2" y1="562.5" x2="144.2" y2="671" stroke="#64a0d2" stroke-width="1.7"/>
<line x1="141.9" y1="562.5" x2="146.5" y2="562.5" stroke="#64a0d2" stroke-width="1.3"/>
<line x1="141.9" y1="671" x2="146.5" y2="671" stroke="#64a0d2" stroke-width="1.3"/>
<line x1="151.7" y1="548.8" x2="151.7" y2="676.9" stroke="#64a0d2" stroke-width="1.7"/>
<line x1="149.4" y1="548.8" x2="154" y2="548.8" stroke="#64a0d2" stroke-width="1.3"/>
<line x1="149.4" y1="676.9" x2="154" y2="676.9" stroke="#64a0d2" stroke-width="1.3"/>
<line x1="159.2" y1="554.3" x2="159.2" y2="679.5" stroke="#64a0d2" stroke-width="1.7"/>
<line x1="156.9" y1="554.3" x2="161.5" y2="554.3" stroke="#64a0d2" stroke-width="1.3"/>
<line x1="156.9" y1="679.5" x2="161.5" y2="679.5" stroke="#64a0d2" stroke-width="1.3"/>
<line x1="166.4" y1="557.9" x2="166.4" y2="644.9" stroke="#64a0d2" stroke-width="1.7"/>
<line x1="164.1" y1="557.9" x2="168.7" y2="557.9" stroke="#64a0d2" stroke-width="1.3"/>
<line x1="164.1" y1="644.9" x2="168.7" y2="644.9" stroke="#64a0d2" stroke-width="1.3"/>
<line x1="174" y1="538" x2="174" y2="642.6" stroke="#64a0d2" stroke-width="1.7"/>
<line x1="171.7" y1="538" x2="176.3" y2="538" stroke="#64a0d2" stroke-width="1.3"/>
<line x1="171.7" y1="642.6" x2="176.3" y2="642.6" stroke="#64a0d2" stroke-width="1.3"/>
<line x1="181.5" y1="551.7" x2="181.5" y2="631.1" stroke="#64a0d2" stroke-width="1.7"/>
<line x1="179.2" y1="551.7" x2="183.8" y2="551.7" stroke="#64a0d2" stroke-width="1.3"/>
<line x1="179.2" y1="631.1" x2="183.8" y2="631.1" stroke="#64a0d2" stroke-width="1.3"/>
<line x1="189.3" y1="538" x2="189.3" y2="625.3" stroke="#64a0d2" stroke-width="1.7"/>
<line x1="187" y1="538" x2="191.6" y2="538" stroke="#64a0d2" stroke-width="1.3"/>
<line x1="187" y1="625.3" x2="191.6" y2="625.3" stroke="#64a0d2" stroke-width="1.3"/>
<line x1="196.8" y1="541.2" x2="196.8" y2="617.1" stroke="#64a0d2" stroke-width="1.7"/>
<line x1="194.5" y1="541.2" x2="199.1" y2="541.2" stroke="#64a0d2" stroke-width="1.3"/>
<line x1="194.5" y1="617.1" x2="199.1" y2="617.1" stroke="#64a0d2" stroke-width="1.3"/>
<line x1="204.2" y1="541.5" x2="204.2" y2="614" stroke="#64a0d2" stroke-width="1.7"/>
<line x1="201.9" y1="541.5" x2="206.5" y2="541.5" stroke="#64a0d2" stroke-width="1.3"/>
<line x1="201.9" y1="614" x2="206.5" y2="614" stroke="#64a0d2" stroke-width="1.3"/>
<line x1="211.5" y1="521.3" x2="211.5" y2="606.5" stroke="#64a0d2" stroke-width="1.7"/>
<line x1="209.2" y1="521.3" x2="213.8" y2="521.3" stroke="#64a0d2" stroke-width="1.3"/>
<line x1="209.2" y1="606.5" x2="213.8" y2="606.5" stroke="#64a0d2" stroke-width="1.3"/>
<line x1="219.1" y1="515.5" x2="219.1" y2="609.1" stroke="#64a0d2" stroke-width="1.7"/>
<line x1="216.8" y1="515.5" x2="221.4" y2="515.5" stroke="#64a0d2" stroke-width="1.3"/>
<line x1="216.8" y1="609.1" x2="221.4" y2="609.1" stroke="#64a0d2" stroke-width="1.3"/>
<line x1="226.9" y1="586.1" x2="226.9" y2="616.2" stroke="#64a0d2" stroke-width="1.7"/>
<line x1="224.6" y1="586.1" x2="229.2" y2="586.1" stroke="#64a0d2" stroke-width="1.3"/>
<line x1="224.6" y1="616.2" x2="229.2" y2="616.2" stroke="#64a0d2" stroke-width="1.3"/>
<line x1="234.2" y1="540.5" x2="234.2" y2="589" stroke="#64a0d2" stroke-width="1.7"/>
<line x1="231.9" y1="540.5" x2="236.5" y2="540.5" stroke="#64a0d2" stroke-width="1.3"/>
<line x1="231.9" y1="589" x2="236.5" y2="589" stroke="#64a0d2" stroke-width="1.3"/>
<line x1="241.4" y1="523.1" x2="241.4" y2="575.3" stroke="#64a0d2" stroke-width="1.7"/>
<line x1="239.1" y1="523.1" x2="243.7" y2="523.1" stroke="#64a0d2" stroke-width="1.3"/>
<line x1="239.1" y1="575.3" x2="243.7" y2="575.3" stroke="#64a0d2" stroke-width="1.3"/>
<line x1="248.8" y1="549.4" x2="248.8" y2="568.9" stroke="#64a0d2" stroke-width="1.7"/>
<line x1="246.5" y1="549.4" x2="251.1" y2="549.4" stroke="#64a0d2" stroke-width="1.3"/>
<line x1="246.5" y1="568.9" x2="251.1" y2="568.9" stroke="#64a0d2" stroke-width="1.3"/>
<line x1="256.3" y1="517.4" x2="256.3" y2="532.1" stroke="#64a0d2" stroke-width="1.7"/>
<line x1="254" y1="517.4" x2="258.6" y2="517.4" stroke="#64a0d2" stroke-width="1.3"/>
<line x1="254" y1="532.1" x2="258.6" y2="532.1" stroke="#64a0d2" stroke-width="1.3"/>
<line x1="308.6" y1="539.2" x2="308.6" y2="583.4" stroke="#64a0d2" stroke-width="1.7"/>
<line x1="306.3" y1="539.2" x2="310.9" y2="539.2" stroke="#64a0d2" stroke-width="1.3"/>
<line x1="306.3" y1="583.4" x2="310.9" y2="583.4" stroke="#64a0d2" stroke-width="1.3"/>
<circle cx="76.5" cy="748.8" r="3.1" fill="#3a77ad"/>
<circle cx="84.1" cy="637.7" r="3.1" fill="#3a77ad"/>
<circle cx="91.6" cy="679.2" r="3.1" fill="#3a77ad"/>
<circle cx="99.1" cy="671" r="3.1" fill="#3a77ad"/>
<circle cx="106.6" cy="663.2" r="3.1" fill="#3a77ad"/>
<circle cx="114.1" cy="646.8" r="3.1" fill="#3a77ad"/>
<circle cx="121.7" cy="642.3" r="3.1" fill="#3a77ad"/>
<circle cx="129.2" cy="626.9" r="3.1" fill="#3a77ad"/>
<circle cx="136.7" cy="631.5" r="3.1" fill="#3a77ad"/>
<circle cx="144.2" cy="613.5" r="3.1" fill="#3a77ad"/>
<circle cx="151.7" cy="608.3" r="3.1" fill="#3a77ad"/>
<circle cx="159.2" cy="612.8" r="3.1" fill="#3a77ad"/>
<circle cx="166.4" cy="598.8" r="3.1" fill="#3a77ad"/>
<circle cx="174" cy="587" r="3.1" fill="#3a77ad"/>
<circle cx="181.5" cy="590" r="3.1" fill="#3a77ad"/>
<circle cx="189.3" cy="579.5" r="3.1" fill="#3a77ad"/>
<circle cx="196.8" cy="586.7" r="3.1" fill="#3a77ad"/>
<circle cx="204.2" cy="576" r="3.1" fill="#3a77ad"/>
<circle cx="211.5" cy="561.2" r="3.1" fill="#3a77ad"/>
<circle cx="219.1" cy="559.4" r="3.1" fill="#3a77ad"/>
<circle cx="226.9" cy="601" r="3.1" fill="#3a77ad"/>
<circle cx="234.2" cy="563.8" r="3.1" fill="#3a77ad"/>
<circle cx="241.4" cy="548.2" r="3.1" fill="#3a77ad"/>
<circle cx="248.8" cy="558.8" r="3.1" fill="#3a77ad"/>
<circle cx="256.3" cy="524.7" r="3.1" fill="#3a77ad"/>
<circle cx="271.5" cy="477.1" r="3.1" fill="#3a77ad"/>
<circle cx="278.9" cy="507" r="3.1" fill="#3a77ad"/>
<circle cx="286.2" cy="545.2" r="3.1" fill="#3a77ad"/>
<circle cx="308.6" cy="560.9" r="3.1" fill="#3a77ad"/>
<circle cx="345.8" cy="569.6" r="3.1" fill="#3a77ad"/>
<line x1="93.9" y1="453.6" x2="93.9" y2="781.6" stroke="#2a2a2a" stroke-width="1.8" stroke-dasharray="4.2 2.1"/>
<line x1="212" y1="453.6" x2="212" y2="781.6" stroke="#2a2a2a" stroke-width="1.8" stroke-dasharray="4.2 2.1"/>
</g>
<rect x="76.5" y="453.6" width="328.1" height="328" fill="none" stroke="#828282" stroke-width="1.3"/>
<line x1="76.09" y1="781.6" x2="76.09" y2="783.2" stroke="#555" stroke-width="1.0"/>
<line x1="106.5" y1="781.6" x2="106.5" y2="783.2" stroke="#555" stroke-width="1.0"/>
<line x1="128.08" y1="781.6" x2="128.08" y2="783.2" stroke="#555" stroke-width="1.0"/>
<line x1="144.81" y1="781.6" x2="144.81" y2="783.2" stroke="#555" stroke-width="1.0"/>
<line x1="158.49" y1="781.6" x2="158.49" y2="783.2" stroke="#555" stroke-width="1.0"/>
<line x1="170.05" y1="781.6" x2="170.05" y2="783.2" stroke="#555" stroke-width="1.0"/>
<line x1="180.06" y1="781.6" x2="180.06" y2="783.2" stroke="#555" stroke-width="1.0"/>
<line x1="188.9" y1="781.6" x2="188.9" y2="783.2" stroke="#555" stroke-width="1.0"/>
<line x1="196.8" y1="781.6" x2="196.8" y2="784.9" stroke="#555" stroke-width="1.0"/>
<line x1="248.79" y1="781.6" x2="248.79" y2="783.2" stroke="#555" stroke-width="1.0"/>
<line x1="279.2" y1="781.6" x2="279.2" y2="783.2" stroke="#555" stroke-width="1.0"/>
<line x1="300.78" y1="781.6" x2="300.78" y2="783.2" stroke="#555" stroke-width="1.0"/>
<line x1="317.51" y1="781.6" x2="317.51" y2="783.2" stroke="#555" stroke-width="1.0"/>
<line x1="331.19" y1="781.6" x2="331.19" y2="783.2" stroke="#555" stroke-width="1.0"/>
<line x1="342.75" y1="781.6" x2="342.75" y2="783.2" stroke="#555" stroke-width="1.0"/>
<line x1="352.76" y1="781.6" x2="352.76" y2="783.2" stroke="#555" stroke-width="1.0"/>
<line x1="361.6" y1="781.6" x2="361.6" y2="783.2" stroke="#555" stroke-width="1.0"/>
<line x1="369.5" y1="781.6" x2="369.5" y2="784.9" stroke="#555" stroke-width="1.0"/>
<line x1="76.5" y1="747.84" x2="74.9" y2="747.84" stroke="#555" stroke-width="1.0"/>
<line x1="76.5" y1="686" x2="74.9" y2="686" stroke="#555" stroke-width="1.0"/>
<line x1="76.5" y1="632.43" x2="74.9" y2="632.43" stroke="#555" stroke-width="1.0"/>
<line x1="76.5" y1="585.17" x2="74.9" y2="585.17" stroke="#555" stroke-width="1.0"/>
<line x1="76.5" y1="542.9" x2="73.2" y2="542.9" stroke="#555" stroke-width="1.0"/>
<g transform="translate(184.65 798.7)"><text x="0" y="0" font-size="15.5" fill="#4a4a4a">10</text><text x="15.5" y="-5.8" font-size="11.2" fill="#4a4a4a">1</text></g>
<g transform="translate(357.35 798.7)"><text x="0" y="0" font-size="15.5" fill="#4a4a4a">10</text><text x="15.5" y="-5.8" font-size="11.2" fill="#4a4a4a">2</text></g>
<g transform="translate(49.3 548.8)"><text x="0" y="0" font-size="15.5" fill="#4a4a4a">10</text><text x="15.5" y="-5.8" font-size="11.2" fill="#4a4a4a">3</text></g>
<g transform="translate(24.53 591.67)"><text x="0" y="0" font-size="15.5" fill="#4a4a4a">9</text><text x="11.35" y="2.4" font-size="19" fill="#4a4a4a">×</text><text x="26.27" y="0" font-size="15.5" fill="#4a4a4a">10</text><text x="41.77" y="-5.5" font-size="11.2" fill="#4a4a4a">2</text></g>
<g transform="translate(24.53 638.93)"><text x="0" y="0" font-size="15.5" fill="#4a4a4a">8</text><text x="11.35" y="2.4" font-size="19" fill="#4a4a4a">×</text><text x="26.27" y="0" font-size="15.5" fill="#4a4a4a">10</text><text x="41.77" y="-5.5" font-size="11.2" fill="#4a4a4a">2</text></g>
<g transform="translate(24.53 692.5)"><text x="0" y="0" font-size="15.5" fill="#4a4a4a">7</text><text x="11.35" y="2.4" font-size="19" fill="#4a4a4a">×</text><text x="26.27" y="0" font-size="15.5" fill="#4a4a4a">10</text><text x="41.77" y="-5.5" font-size="11.2" fill="#4a4a4a">2</text></g>
<g transform="translate(24.53 754.34)"><text x="0" y="0" font-size="15.5" fill="#4a4a4a">6</text><text x="11.35" y="2.4" font-size="19" fill="#4a4a4a">×</text><text x="26.27" y="0" font-size="15.5" fill="#4a4a4a">10</text><text x="41.77" y="-5.5" font-size="11.2" fill="#4a4a4a">2</text></g>
<g transform="translate(233.88 818.1)"><text x="0" y="0" font-size="22" font-style="italic" fill="#1a1a1a">L</text></g>
<g transform="translate(17.5 619.5) rotate(-90) translate(-8.47 0)"><path d="M5.21 -14.48 L1.16 -4.83 L5.21 4.83" fill="none" stroke="#1a1a1a" stroke-width="1.2" stroke-linejoin="miter"/><text x="5.79" y="0" font-size="19.3" font-style="italic" fill="#1a1a1a">l</text><path d="M11.73 -14.48 L15.78 -4.83 L11.73 4.83" fill="none" stroke="#1a1a1a" stroke-width="1.2" stroke-linejoin="miter"/></g>
<line x1="642.2" y1="453.6" x2="642.2" y2="781.3" stroke="#cfcfcf" stroke-width="1" stroke-dasharray="2 1.1"/>
<line x1="814.7" y1="453.6" x2="814.7" y2="781.3" stroke="#cfcfcf" stroke-width="1" stroke-dasharray="2 1.1"/>
<clipPath id="cE"><rect x="521.1" y="453.6" width="328.6" height="327.69999999999993"/></clipPath>
<g clip-path="url(#cE)">
<path d="M521.1 735.3 L849.7 486.3" fill="none" stroke="#1e1e1e" stroke-width="1.6" stroke-linejoin="round"/>
<line x1="529.5" y1="642.9" x2="529.5" y2="688.5" stroke="#64a0d2" stroke-width="1.7"/>
<line x1="527.2" y1="642.9" x2="531.8" y2="642.9" stroke="#64a0d2" stroke-width="1.3"/>
<line x1="527.2" y1="688.5" x2="531.8" y2="688.5" stroke="#64a0d2" stroke-width="1.3"/>
<line x1="537.3" y1="663.8" x2="537.3" y2="724.7" stroke="#64a0d2" stroke-width="1.7"/>
<line x1="535" y1="663.8" x2="539.6" y2="663.8" stroke="#64a0d2" stroke-width="1.3"/>
<line x1="535" y1="724.7" x2="539.6" y2="724.7" stroke="#64a0d2" stroke-width="1.3"/>
<line x1="544.5" y1="674.1" x2="544.5" y2="742.8" stroke="#64a0d2" stroke-width="1.7"/>
<line x1="542.2" y1="674.1" x2="546.8" y2="674.1" stroke="#64a0d2" stroke-width="1.3"/>
<line x1="542.2" y1="742.8" x2="546.8" y2="742.8" stroke="#64a0d2" stroke-width="1.3"/>
<line x1="551.7" y1="673.2" x2="551.7" y2="750.9" stroke="#64a0d2" stroke-width="1.7"/>
<line x1="549.4" y1="673.2" x2="554" y2="673.2" stroke="#64a0d2" stroke-width="1.3"/>
<line x1="549.4" y1="750.9" x2="554" y2="750.9" stroke="#64a0d2" stroke-width="1.3"/>
<line x1="559.2" y1="669.9" x2="559.2" y2="739.5" stroke="#64a0d2" stroke-width="1.7"/>
<line x1="556.9" y1="669.9" x2="561.5" y2="669.9" stroke="#64a0d2" stroke-width="1.3"/>
<line x1="556.9" y1="739.5" x2="561.5" y2="739.5" stroke="#64a0d2" stroke-width="1.3"/>
<line x1="566.8" y1="651.8" x2="566.8" y2="737.5" stroke="#64a0d2" stroke-width="1.7"/>
<line x1="564.5" y1="651.8" x2="569.1" y2="651.8" stroke="#64a0d2" stroke-width="1.3"/>
<line x1="564.5" y1="737.5" x2="569.1" y2="737.5" stroke="#64a0d2" stroke-width="1.3"/>
<line x1="574" y1="658.8" x2="574" y2="716.6" stroke="#64a0d2" stroke-width="1.7"/>
<line x1="571.7" y1="658.8" x2="576.3" y2="658.8" stroke="#64a0d2" stroke-width="1.3"/>
<line x1="571.7" y1="716.6" x2="576.3" y2="716.6" stroke="#64a0d2" stroke-width="1.3"/>
<line x1="581.8" y1="653.2" x2="581.8" y2="720" stroke="#64a0d2" stroke-width="1.7"/>
<line x1="579.5" y1="653.2" x2="584.1" y2="653.2" stroke="#64a0d2" stroke-width="1.3"/>
<line x1="579.5" y1="720" x2="584.1" y2="720" stroke="#64a0d2" stroke-width="1.3"/>
<line x1="589.3" y1="647.1" x2="589.3" y2="710.2" stroke="#64a0d2" stroke-width="1.7"/>
<line x1="587" y1="647.1" x2="591.6" y2="647.1" stroke="#64a0d2" stroke-width="1.3"/>
<line x1="587" y1="710.2" x2="591.6" y2="710.2" stroke="#64a0d2" stroke-width="1.3"/>
<line x1="596.5" y1="632.3" x2="596.5" y2="716.6" stroke="#64a0d2" stroke-width="1.7"/>
<line x1="594.2" y1="632.3" x2="598.8" y2="632.3" stroke="#64a0d2" stroke-width="1.3"/>
<line x1="594.2" y1="716.6" x2="598.8" y2="716.6" stroke="#64a0d2" stroke-width="1.3"/>
<line x1="604" y1="646.5" x2="604" y2="710.2" stroke="#64a0d2" stroke-width="1.7"/>
<line x1="601.7" y1="646.5" x2="606.3" y2="646.5" stroke="#64a0d2" stroke-width="1.3"/>
<line x1="601.7" y1="710.2" x2="606.3" y2="710.2" stroke="#64a0d2" stroke-width="1.3"/>
<line x1="611.5" y1="637.9" x2="611.5" y2="696.9" stroke="#64a0d2" stroke-width="1.7"/>
<line x1="609.2" y1="637.9" x2="613.8" y2="637.9" stroke="#64a0d2" stroke-width="1.3"/>
<line x1="609.2" y1="696.9" x2="613.8" y2="696.9" stroke="#64a0d2" stroke-width="1.3"/>
<line x1="619.3" y1="639.3" x2="619.3" y2="686.6" stroke="#64a0d2" stroke-width="1.7"/>
<line x1="617" y1="639.3" x2="621.6" y2="639.3" stroke="#64a0d2" stroke-width="1.3"/>
<line x1="617" y1="686.6" x2="621.6" y2="686.6" stroke="#64a0d2" stroke-width="1.3"/>
<line x1="626.9" y1="624.8" x2="626.9" y2="680.2" stroke="#64a0d2" stroke-width="1.7"/>
<line x1="624.6" y1="624.8" x2="629.2" y2="624.8" stroke="#64a0d2" stroke-width="1.3"/>
<line x1="624.6" y1="680.2" x2="629.2" y2="680.2" stroke="#64a0d2" stroke-width="1.3"/>
<line x1="634.4" y1="617.6" x2="634.4" y2="672.4" stroke="#64a0d2" stroke-width="1.7"/>
<line x1="632.1" y1="617.6" x2="636.7" y2="617.6" stroke="#64a0d2" stroke-width="1.3"/>
<line x1="632.1" y1="672.4" x2="636.7" y2="672.4" stroke="#64a0d2" stroke-width="1.3"/>
<line x1="641.6" y1="624.8" x2="641.6" y2="676.9" stroke="#64a0d2" stroke-width="1.7"/>
<line x1="639.3" y1="624.8" x2="643.9" y2="624.8" stroke="#64a0d2" stroke-width="1.3"/>
<line x1="639.3" y1="676.9" x2="643.9" y2="676.9" stroke="#64a0d2" stroke-width="1.3"/>
<line x1="649.1" y1="607.9" x2="649.1" y2="676.9" stroke="#64a0d2" stroke-width="1.7"/>
<line x1="646.8" y1="607.9" x2="651.4" y2="607.9" stroke="#64a0d2" stroke-width="1.3"/>
<line x1="646.8" y1="676.9" x2="651.4" y2="676.9" stroke="#64a0d2" stroke-width="1.3"/>
<line x1="656.7" y1="618.2" x2="656.7" y2="670" stroke="#64a0d2" stroke-width="1.7"/>
<line x1="654.4" y1="618.2" x2="659" y2="618.2" stroke="#64a0d2" stroke-width="1.3"/>
<line x1="654.4" y1="670" x2="659" y2="670" stroke="#64a0d2" stroke-width="1.3"/>
<line x1="664.3" y1="584.3" x2="664.3" y2="677.9" stroke="#64a0d2" stroke-width="1.7"/>
<line x1="662" y1="584.3" x2="666.6" y2="584.3" stroke="#64a0d2" stroke-width="1.3"/>
<line x1="662" y1="677.9" x2="666.6" y2="677.9" stroke="#64a0d2" stroke-width="1.3"/>
<line x1="671.7" y1="604" x2="671.7" y2="626.1" stroke="#64a0d2" stroke-width="1.7"/>
<line x1="669.4" y1="604" x2="674" y2="604" stroke="#64a0d2" stroke-width="1.3"/>
<line x1="669.4" y1="626.1" x2="674" y2="626.1" stroke="#64a0d2" stroke-width="1.3"/>
<line x1="679.1" y1="566.9" x2="679.1" y2="617.9" stroke="#64a0d2" stroke-width="1.7"/>
<line x1="676.8" y1="566.9" x2="681.4" y2="566.9" stroke="#64a0d2" stroke-width="1.3"/>
<line x1="676.8" y1="617.9" x2="681.4" y2="617.9" stroke="#64a0d2" stroke-width="1.3"/>
<line x1="686.3" y1="574.7" x2="686.3" y2="641.2" stroke="#64a0d2" stroke-width="1.7"/>
<line x1="684" y1="574.7" x2="688.6" y2="574.7" stroke="#64a0d2" stroke-width="1.3"/>
<line x1="684" y1="641.2" x2="688.6" y2="641.2" stroke="#64a0d2" stroke-width="1.3"/>
<line x1="693.9" y1="575.3" x2="693.9" y2="652.7" stroke="#64a0d2" stroke-width="1.7"/>
<line x1="691.6" y1="575.3" x2="696.2" y2="575.3" stroke="#64a0d2" stroke-width="1.3"/>
<line x1="691.6" y1="652.7" x2="696.2" y2="652.7" stroke="#64a0d2" stroke-width="1.3"/>
<line x1="701.4" y1="583.1" x2="701.4" y2="610.4" stroke="#64a0d2" stroke-width="1.7"/>
<line x1="699.1" y1="583.1" x2="703.7" y2="583.1" stroke="#64a0d2" stroke-width="1.3"/>
<line x1="699.1" y1="610.4" x2="703.7" y2="610.4" stroke="#64a0d2" stroke-width="1.3"/>
<circle cx="522" cy="639.8" r="3.1" fill="#3a77ad"/>
<circle cx="529.5" cy="664.9" r="3.1" fill="#3a77ad"/>
<circle cx="537.3" cy="693" r="3.1" fill="#3a77ad"/>
<circle cx="544.5" cy="706.6" r="3.1" fill="#3a77ad"/>
<circle cx="551.7" cy="709.4" r="3.1" fill="#3a77ad"/>
<circle cx="559.2" cy="702.5" r="3.1" fill="#3a77ad"/>
<circle cx="566.8" cy="691.3" r="3.1" fill="#3a77ad"/>
<circle cx="574" cy="686.6" r="3.1" fill="#3a77ad"/>
<circle cx="581.8" cy="684.1" r="3.1" fill="#3a77ad"/>
<circle cx="589.3" cy="676.9" r="3.1" fill="#3a77ad"/>
<circle cx="596.5" cy="671.6" r="3.1" fill="#3a77ad"/>
<circle cx="604" cy="676.3" r="3.1" fill="#3a77ad"/>
<circle cx="611.5" cy="666" r="3.1" fill="#3a77ad"/>
<circle cx="619.3" cy="661.6" r="3.1" fill="#3a77ad"/>
<circle cx="626.9" cy="651.3" r="3.1" fill="#3a77ad"/>
<circle cx="634.4" cy="643.5" r="3.1" fill="#3a77ad"/>
<circle cx="641.6" cy="649.6" r="3.1" fill="#3a77ad"/>
<circle cx="649.1" cy="640.7" r="3.1" fill="#3a77ad"/>
<circle cx="656.7" cy="642.5" r="3.1" fill="#3a77ad"/>
<circle cx="664.3" cy="627.3" r="3.1" fill="#3a77ad"/>
<circle cx="671.7" cy="614.9" r="3.1" fill="#3a77ad"/>
<circle cx="679.1" cy="591.4" r="3.1" fill="#3a77ad"/>
<circle cx="686.3" cy="606.1" r="3.1" fill="#3a77ad"/>
<circle cx="693.9" cy="611.3" r="3.1" fill="#3a77ad"/>
<circle cx="701.4" cy="596.7" r="3.1" fill="#3a77ad"/>
<circle cx="716.6" cy="620" r="3.1" fill="#3a77ad"/>
<circle cx="723.8" cy="617.3" r="3.1" fill="#3a77ad"/>
<circle cx="731.1" cy="630" r="3.1" fill="#3a77ad"/>
<circle cx="753.8" cy="615.2" r="3.1" fill="#3a77ad"/>
<circle cx="791.3" cy="498.1" r="3.1" fill="#3a77ad"/>
<line x1="539.2" y1="453.6" x2="539.2" y2="781.3" stroke="#2a2a2a" stroke-width="1.8" stroke-dasharray="4.2 2.1"/>
<line x1="657.5" y1="453.6" x2="657.5" y2="781.3" stroke="#2a2a2a" stroke-width="1.8" stroke-dasharray="4.2 2.1"/>
</g>
<rect x="521.1" y="453.6" width="328.6" height="327.7" fill="none" stroke="#828282" stroke-width="1.3"/>
<line x1="521.63" y1="781.3" x2="521.63" y2="782.9" stroke="#555" stroke-width="1.0"/>
<line x1="552" y1="781.3" x2="552" y2="782.9" stroke="#555" stroke-width="1.0"/>
<line x1="573.56" y1="781.3" x2="573.56" y2="782.9" stroke="#555" stroke-width="1.0"/>
<line x1="590.27" y1="781.3" x2="590.27" y2="782.9" stroke="#555" stroke-width="1.0"/>
<line x1="603.93" y1="781.3" x2="603.93" y2="782.9" stroke="#555" stroke-width="1.0"/>
<line x1="615.48" y1="781.3" x2="615.48" y2="782.9" stroke="#555" stroke-width="1.0"/>
<line x1="625.48" y1="781.3" x2="625.48" y2="782.9" stroke="#555" stroke-width="1.0"/>
<line x1="634.31" y1="781.3" x2="634.31" y2="782.9" stroke="#555" stroke-width="1.0"/>
<line x1="642.2" y1="781.3" x2="642.2" y2="784.6" stroke="#555" stroke-width="1.0"/>
<line x1="694.13" y1="781.3" x2="694.13" y2="782.9" stroke="#555" stroke-width="1.0"/>
<line x1="724.5" y1="781.3" x2="724.5" y2="782.9" stroke="#555" stroke-width="1.0"/>
<line x1="746.06" y1="781.3" x2="746.06" y2="782.9" stroke="#555" stroke-width="1.0"/>
<line x1="762.77" y1="781.3" x2="762.77" y2="782.9" stroke="#555" stroke-width="1.0"/>
<line x1="776.43" y1="781.3" x2="776.43" y2="782.9" stroke="#555" stroke-width="1.0"/>
<line x1="787.98" y1="781.3" x2="787.98" y2="782.9" stroke="#555" stroke-width="1.0"/>
<line x1="797.98" y1="781.3" x2="797.98" y2="782.9" stroke="#555" stroke-width="1.0"/>
<line x1="806.81" y1="781.3" x2="806.81" y2="782.9" stroke="#555" stroke-width="1.0"/>
<line x1="814.7" y1="781.3" x2="814.7" y2="784.6" stroke="#555" stroke-width="1.0"/>
<line x1="521.1" y1="702.49" x2="519.1" y2="702.49" stroke="#555" stroke-width="0.9"/>
<g transform="translate(469.63 709.29)"><text x="0" y="0" font-size="15.5" fill="#4a4a4a">2</text><text x="11.35" y="2.4" font-size="19" fill="#4a4a4a">×</text><text x="26.27" y="0" font-size="15.5" fill="#4a4a4a">10</text><text x="41.77" y="-5.5" font-size="11.2" fill="#4a4a4a">2</text></g>
<line x1="521.1" y1="591.9" x2="519.1" y2="591.9" stroke="#555" stroke-width="0.9"/>
<g transform="translate(469.63 598.7)"><text x="0" y="0" font-size="15.5" fill="#4a4a4a">3</text><text x="11.35" y="2.4" font-size="19" fill="#4a4a4a">×</text><text x="26.27" y="0" font-size="15.5" fill="#4a4a4a">10</text><text x="41.77" y="-5.5" font-size="11.2" fill="#4a4a4a">2</text></g>
<line x1="521.1" y1="513.44" x2="519.1" y2="513.44" stroke="#555" stroke-width="0.9"/>
<g transform="translate(469.63 520.24)"><text x="0" y="0" font-size="15.5" fill="#4a4a4a">4</text><text x="11.35" y="2.4" font-size="19" fill="#4a4a4a">×</text><text x="26.27" y="0" font-size="15.5" fill="#4a4a4a">10</text><text x="41.77" y="-5.5" font-size="11.2" fill="#4a4a4a">2</text></g>
<g transform="translate(630.05 798.4)"><text x="0" y="0" font-size="15.5" fill="#4a4a4a">10</text><text x="15.5" y="-5.8" font-size="11.2" fill="#4a4a4a">1</text></g>
<g transform="translate(802.55 798.4)"><text x="0" y="0" font-size="15.5" fill="#4a4a4a">10</text><text x="15.5" y="-5.8" font-size="11.2" fill="#4a4a4a">2</text></g>
<g transform="translate(679.18 818)"><text x="0" y="0" font-size="22" font-style="italic" fill="#1a1a1a">L</text></g>
<g transform="translate(462 619) rotate(-90) translate(-14.38 0)"><path d="M5.4 -15 L1.2 -5 L5.4 5" fill="none" stroke="#1a1a1a" stroke-width="1.2" stroke-linejoin="miter"/><text x="6" y="0" font-size="20" font-style="italic" fill="#1a1a1a">p</text><text x="16" y="4" font-size="13.5" font-style="italic" fill="#1a1a1a">p</text><path d="M23.35 -15 L27.55 -5 L23.35 5" fill="none" stroke="#1a1a1a" stroke-width="1.2" stroke-linejoin="miter"/></g>
<line x1="1096.8" y1="453.5" x2="1096.8" y2="786.4" stroke="#cfcfcf" stroke-width="1" stroke-dasharray="2 1.1"/>
<line x1="1252.2" y1="453.5" x2="1252.2" y2="786.4" stroke="#cfcfcf" stroke-width="1" stroke-dasharray="2 1.1"/>
<clipPath id="cF"><rect x="947.6" y="453.5" width="332.19999999999993" height="332.9"/></clipPath>
<g clip-path="url(#cF)">
<path d="M947.6 530.5 L1279.8 530.5" fill="none" stroke="#a3f58a" stroke-width="8.0" stroke-linejoin="round"/>
<path d="M947.6 600.4 L1110 600.4 L1279.8 530.5" fill="none" stroke="#f4c0c0" stroke-width="3.6" stroke-linejoin="round"/>
<path d="M947.6 669.3 L1110 600.4 L1279.8 600.4" fill="none" stroke="#e0e09c" stroke-width="3.6" stroke-linejoin="round"/>
<path d="M947.6 669.3 L1110 600.4 L1279.8 530.5" fill="none" stroke="#151515" stroke-width="1.7" stroke-linejoin="round"/>
<path d="M947.6 737 L1110 670.5 L1279.8 670.5" fill="none" stroke="#858585" stroke-width="5.4" stroke-linejoin="round"/>
<path d="M947.6 670.5 L1279.8 670.5" fill="none" stroke="#e52a3a" stroke-width="2.2" stroke-linejoin="round"/>
<path d="M947.6 597 L1110 530.5 L1279.8 530.5" fill="none" stroke="#7d1090" stroke-width="4.2" stroke-linejoin="round"/>
<path d="M947.6 597 L1279.8 460.3" fill="none" stroke="#3f92be" stroke-width="1.4" stroke-linejoin="round"/>
<path d="M947.6 597 L1110 530.5" fill="none" stroke="#3a5aa8" stroke-width="1.3" stroke-linejoin="round"/>
<line x1="947.6" y1="460.3" x2="1279.8" y2="460.3" stroke="#2a2a2a" stroke-width="1.8" stroke-dasharray="4.2 2.1"/>
<line x1="947.6" y1="530.5" x2="1279.8" y2="530.5" stroke="#2a2a2a" stroke-width="1.8" stroke-dasharray="4.2 2.1"/>
<line x1="947.6" y1="600.4" x2="1279.8" y2="600.4" stroke="#2a2a2a" stroke-width="1.8" stroke-dasharray="4.2 2.1"/>
<line x1="947.6" y1="670.5" x2="1279.8" y2="670.5" stroke="#1e1e1e" stroke-width="2.0" stroke-dasharray="4.2 2.1"/>
<line x1="1110" y1="453.5" x2="1110" y2="786.4" stroke="#2a2a2a" stroke-width="1.8" stroke-dasharray="4.2 2.1"/>
<line x1="1279.5" y1="453.5" x2="1279.5" y2="786.4" stroke="#2a2a2a" stroke-width="1.8" stroke-dasharray="4.2 2.1"/>
</g>
<rect x="947.6" y="453.5" width="332.2" height="332.9" fill="none" stroke="#828282" stroke-width="1.3"/>
<line x1="988.18" y1="786.4" x2="988.18" y2="788" stroke="#555" stroke-width="1.0"/>
<line x1="1015.54" y1="786.4" x2="1015.54" y2="788" stroke="#555" stroke-width="1.0"/>
<line x1="1034.96" y1="786.4" x2="1034.96" y2="788" stroke="#555" stroke-width="1.0"/>
<line x1="1050.02" y1="786.4" x2="1050.02" y2="788" stroke="#555" stroke-width="1.0"/>
<line x1="1062.32" y1="786.4" x2="1062.32" y2="788" stroke="#555" stroke-width="1.0"/>
<line x1="1072.73" y1="786.4" x2="1072.73" y2="788" stroke="#555" stroke-width="1.0"/>
<line x1="1081.74" y1="786.4" x2="1081.74" y2="788" stroke="#555" stroke-width="1.0"/>
<line x1="1089.69" y1="786.4" x2="1089.69" y2="788" stroke="#555" stroke-width="1.0"/>
<line x1="1096.8" y1="786.4" x2="1096.8" y2="789.7" stroke="#555" stroke-width="1.0"/>
<line x1="1143.58" y1="786.4" x2="1143.58" y2="788" stroke="#555" stroke-width="1.0"/>
<line x1="1170.94" y1="786.4" x2="1170.94" y2="788" stroke="#555" stroke-width="1.0"/>
<line x1="1190.36" y1="786.4" x2="1190.36" y2="788" stroke="#555" stroke-width="1.0"/>
<line x1="1205.42" y1="786.4" x2="1205.42" y2="788" stroke="#555" stroke-width="1.0"/>
<line x1="1217.72" y1="786.4" x2="1217.72" y2="788" stroke="#555" stroke-width="1.0"/>
<line x1="1228.13" y1="786.4" x2="1228.13" y2="788" stroke="#555" stroke-width="1.0"/>
<line x1="1237.14" y1="786.4" x2="1237.14" y2="788" stroke="#555" stroke-width="1.0"/>
<line x1="1245.09" y1="786.4" x2="1245.09" y2="788" stroke="#555" stroke-width="1.0"/>
<line x1="1252.2" y1="786.4" x2="1252.2" y2="789.7" stroke="#555" stroke-width="1.0"/>
<line x1="947.6" y1="765.21" x2="946" y2="765.21" stroke="#555" stroke-width="1.0"/>
<line x1="947.6" y1="725.85" x2="946" y2="725.85" stroke="#555" stroke-width="1.0"/>
<line x1="947.6" y1="695.32" x2="946" y2="695.32" stroke="#555" stroke-width="1.0"/>
<line x1="947.6" y1="670.38" x2="946" y2="670.38" stroke="#555" stroke-width="1.0"/>
<line x1="947.6" y1="649.29" x2="946" y2="649.29" stroke="#555" stroke-width="1.0"/>
<line x1="947.6" y1="631.03" x2="946" y2="631.03" stroke="#555" stroke-width="1.0"/>
<line x1="947.6" y1="614.91" x2="946" y2="614.91" stroke="#555" stroke-width="1.0"/>
<line x1="947.6" y1="600.5" x2="944.3" y2="600.5" stroke="#555" stroke-width="1.0"/>
<line x1="947.6" y1="505.68" x2="946" y2="505.68" stroke="#555" stroke-width="1.0"/>
<g transform="translate(919.9 606)"><text x="0" y="0" font-size="15.5" fill="#4a4a4a">10</text><text x="15.5" y="-5.8" font-size="11.2" fill="#4a4a4a">0</text></g>
<g transform="translate(1084.65 803.4)"><text x="0" y="0" font-size="15.5" fill="#4a4a4a">10</text><text x="15.5" y="-5.8" font-size="11.2" fill="#4a4a4a">1</text></g>
<g transform="translate(1240.05 803.4)"><text x="0" y="0" font-size="15.5" fill="#4a4a4a">10</text><text x="15.5" y="-5.8" font-size="11.2" fill="#4a4a4a">2</text></g>
<g transform="translate(1107.38 823.5)"><text x="0" y="0" font-size="22" font-style="italic" fill="#1a1a1a">L</text></g>
<g transform="translate(914.7 620) rotate(-90) translate(-36.29 0)"><text x="0" y="0" font-size="19.5" fill="#1a1a1a">Densities</text></g>
<g transform="translate(953.4 472.1)"><text x="0" y="0" font-size="15.5" font-style="italic" fill="#333">ρ</text><text x="8.04" y="-4.6" font-size="11" fill="#333">−</text><text x="14.24" y="-4.6" font-size="11" fill="#333">2</text></g>
<g transform="translate(953.4 522)"><text x="0" y="0" font-size="15.5" font-style="italic" fill="#333">ρ</text><text x="8.04" y="-4.8" font-size="11" fill="#333">−</text><text x="14.24" y="-4.8" font-size="11" fill="#333">1</text></g>
<g transform="translate(953.4 616.9)"><text x="0" y="0" font-size="15.5" font-style="italic" fill="#333">ρ</text><text x="7.74" y="-4.4" font-size="10.5" fill="#333">0</text></g>
<g transform="translate(953.4 681.6)"><text x="0" y="0" font-size="15.5" font-style="italic" fill="#333">ρ</text></g>
<g transform="translate(1008.42 617.5)"><path d="M4.46 -12.38 L0.99 -4.12 L4.46 4.12" fill="none" stroke="#c4a4a4" stroke-width="1" stroke-linejoin="miter"/><text x="4.95" y="0" font-size="16.5" font-style="italic" fill="#c4a4a4">h</text><path d="M13.69 -12.38 L17.16 -4.12 L13.69 4.12" fill="none" stroke="#c4a4a4" stroke-width="1" stroke-linejoin="miter"/></g>
<g transform="translate(964.93 649)"><path d="M4.46 -12.38 L0.99 -4.12 L4.46 4.12" fill="none" stroke="#d0d096" stroke-width="1" stroke-linejoin="miter"/><text x="4.95" y="0" font-size="15" font-style="italic" fill="#d0d096">ℓ</text><path d="M11.69 -12.38 L15.16 -4.12 L11.69 4.12" fill="none" stroke="#d0d096" stroke-width="1" stroke-linejoin="miter"/></g>
<g transform="translate(1008.7 689)"><text x="0" y="0" font-size="18" font-style="italic" fill="#e0506a">n</text><text x="9.8" y="0" font-size="18" fill="#e0506a">/</text><text x="15.6" y="0" font-size="18" font-style="italic" fill="#e0506a">a</text></g>
<g transform="translate(965.55 708.3)"><text x="0" y="0" font-size="17" font-style="italic" fill="#a8a8a8">ℓ</text><text x="7.88" y="0" font-size="17" fill="#a8a8a8">/</text><text x="13.4" y="0" font-size="17" font-style="italic" fill="#a8a8a8">a</text></g>
<g transform="translate(964.9 576.5)"><path d="M4.59 -12.75 L1.02 -4.25 L4.59 4.25" fill="none" stroke="#8a3aa6" stroke-width="1" stroke-linejoin="miter"/><text x="5.1" y="0" font-size="17" font-style="italic" fill="#8a3aa6">p</text><text x="13.6" y="3" font-size="11" font-style="italic" fill="#8a3aa6">h</text><path d="M19.61 -12.75 L23.18 -4.25 L19.61 4.25" fill="none" stroke="#8a3aa6" stroke-width="1" stroke-linejoin="miter"/></g>
<g transform="translate(1121.9 507.5)"><path d="M4.59 -12.75 L1.02 -4.25 L4.59 4.25" fill="none" stroke="#5aa3cc" stroke-width="1" stroke-linejoin="miter"/><text x="5.1" y="0" font-size="17" font-style="italic" fill="#5aa3cc">p</text><text x="13.6" y="3" font-size="11" font-style="italic" fill="#5aa3cc">p</text><path d="M19.61 -12.75 L23.18 -4.25 L19.61 4.25" fill="none" stroke="#5aa3cc" stroke-width="1" stroke-linejoin="miter"/></g>
<g transform="translate(1123.5 577)"><text x="0" y="0" font-size="18" font-style="italic" fill="#444">p</text><text x="9.8" y="0" font-size="18" fill="#444">/</text><text x="15.6" y="0" font-size="18" font-style="italic" fill="#444">a</text></g>
<g transform="translate(1114.8 781.9)"><text x="0" y="0" font-size="17" font-style="italic" fill="#333">L</text><text x="9.45" y="2" font-size="11.5" font-style="italic" fill="#333">c</text></g>
<g transform="translate(1260 781.9)"><text x="0" y="0" font-size="17" font-style="italic" fill="#333">L</text><text x="9.45" y="2" font-size="11.5" font-style="italic" fill="#333">m</text></g>
<g transform="translate(1024.14 507.5)"><text x="0" y="0" font-size="11" font-style="italic" fill="#b8f0a0">P</text></g>
<line x1="1009" y1="510.5" x2="1046" y2="510.5" stroke="#b8f0a0" stroke-width="0.9"/>
<g transform="translate(1010.3 520)"><text x="0" y="0" font-size="11" font-style="italic" fill="#b8f0a0">N</text><path d="M11.81 -8.25 L9.5 -2.75 L11.81 2.75" fill="none" stroke="#b8f0a0" stroke-width="0.8" stroke-linejoin="miter"/><text x="12.74" y="0" font-size="11" font-style="italic" fill="#b8f0a0">h</text><path d="M19.17 -8.25 L21.48 -2.75 L19.17 2.75" fill="none" stroke="#b8f0a0" stroke-width="0.8" stroke-linejoin="miter"/><path d="M25.11 -8.25 L22.8 -2.75 L25.11 2.75" fill="none" stroke="#b8f0a0" stroke-width="0.8" stroke-linejoin="miter"/><text x="26.24" y="0" font-size="11" font-style="italic" fill="#b8f0a0">l</text><path d="M30.42 -8.25 L32.73 -2.75 L30.42 2.75" fill="none" stroke="#b8f0a0" stroke-width="0.8" stroke-linejoin="miter"/></g>
</svg></body></html>
